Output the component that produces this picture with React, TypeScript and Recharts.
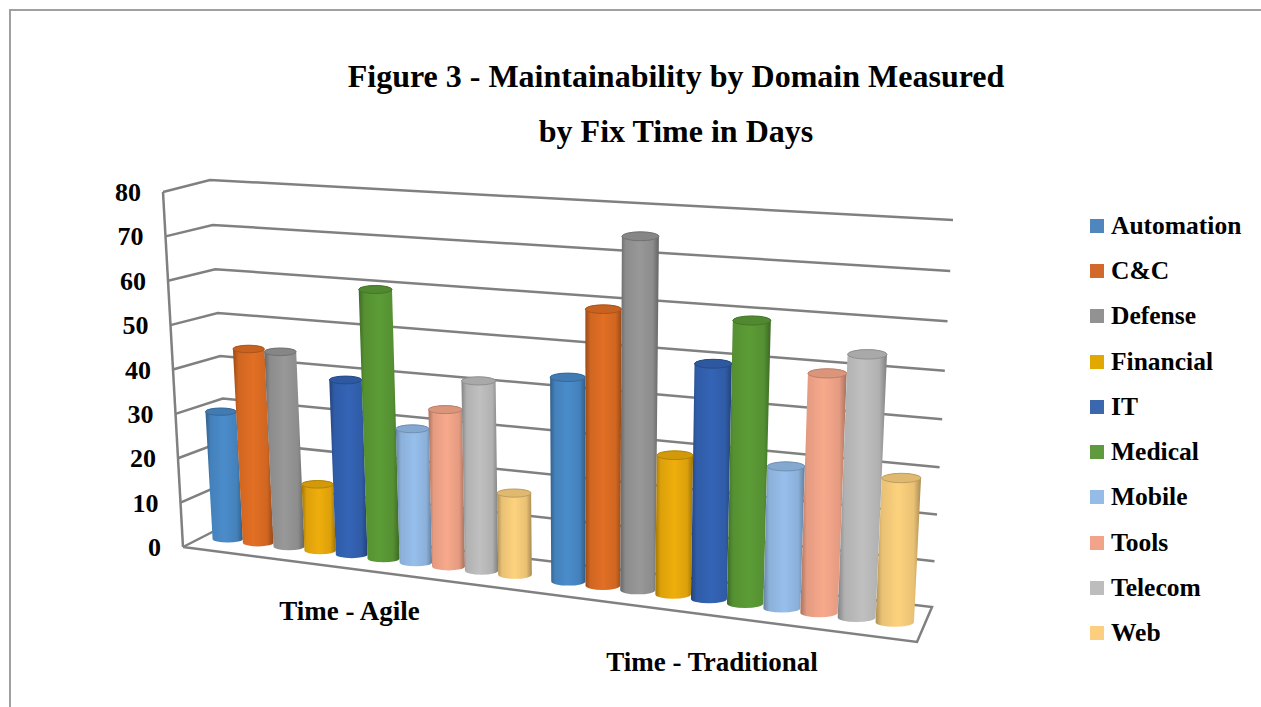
import { BarChart, Bar, XAxis, YAxis, CartesianGrid, Legend } from 'recharts';

const CATEGORIES = ['Time - Agile', 'Time - Traditional'];
const AXIS_TICKS = [0, 10, 20, 30, 40, 50, 60, 70, 80];

const AUTOMATION = [30, 45];
const CC = [45, 60];
const DEFENSE = [45, 75.5];
const FINANCIAL = [15.5, 30.5];
const IT = [40, 50.5];
const MEDICAL = [60.5, 60];
const MOBILE = [30.5, 30.5];
const TOOLS = [35.5, 50.5];
const TELECOM = [42.5, 55];
const WEB = [18.5, 30.5];

const SERIES = [
  { name: 'Automation', values: AUTOMATION, color: '#4F86BE', body: '#4A8CCB' },
  { name: 'C&C', values: CC, color: '#D2692B', body: '#E26F24' },
  { name: 'Defense', values: DEFENSE, color: '#929292', body: '#989898' },
  { name: 'Financial', values: FINANCIAL, color: '#E0A800', body: '#EFAE0C' },
  { name: 'IT', values: IT, color: '#3A67AE', body: '#3464B6' },
  { name: 'Medical', values: MEDICAL, color: '#5F9A3E', body: '#5C9C36' },
  { name: 'Mobile', values: MOBILE, color: '#94BCE6', body: '#97BFEC' },
  { name: 'Tools', values: TOOLS, color: '#F2A48A', body: '#F8A98C' },
  { name: 'Telecom', values: TELECOM, color: '#BDBDBD', body: '#C0C0C0' },
  { name: 'Web', values: WEB, color: '#FCCF80', body: '#FDD27E' },
];

const chartData = CATEGORIES.map((name, i) => {
  const row: Record<string, string | number> = { name };
  SERIES.forEach((s) => {
    row[s.name] = s.values[i];
  });
  return row;
});

// plot rectangle the library lays out in, before it is bent into the 3D view
const PLOT = { left: 200, top: 180, width: 740, height: 360 };
const LEGEND_WIDTH = 171;
const PLOT_BOTTOM = PLOT.top + PLOT.height;

type Pt = [number, number];

// unit square -> quad (top-left, top-right, bottom-right, bottom-left)
function makeProjection(q: Pt[]) {
  const [p0, p1, p2, p3] = q;
  const dx1 = p1[0] - p2[0];
  const dx2 = p3[0] - p2[0];
  const sx = p0[0] - p1[0] + p2[0] - p3[0];
  const dy1 = p1[1] - p2[1];
  const dy2 = p3[1] - p2[1];
  const sy = p0[1] - p1[1] + p2[1] - p3[1];
  const den = dx1 * dy2 - dx2 * dy1;
  const g = (sx * dy2 - dx2 * sy) / den;
  const h = (dx1 * sy - sx * dy1) / den;
  const a = p1[0] - p0[0] + g * p1[0];
  const b = p3[0] - p0[0] + h * p3[0];
  const d = p1[1] - p0[1] + g * p1[1];
  const e = p3[1] - p0[1] + h * p3[1];
  return (x: number, y: number): Pt => {
    const u = (x - PLOT.left) / PLOT.width;
    const v = (y - PLOT.top) / PLOT.height;
    const w = g * u + h * v + 1;
    return [(a * u + b * v + p0[0]) / w, (d * u + e * v + p0[1]) / w];
  };
}

const toWall = makeProjection([[210, 180], [953, 220], [932, 607], [230, 523]]);
const toBars = makeProjection([[184, 187], [945, 232], [925, 626], [204, 536]]);

// front edge of the left wall, value 80 at the top
const FRONT_TOP: Pt = [163, 192];
const FRONT_BOTTOM: Pt = [183, 547];
const FLOOR_FRONT_RIGHT: Pt = [917, 642];

// label nudges off the floor, one per category
const LABEL_DX = [-18, -15];
const LABEL_DY = [64, 70];

function toFrontEdge(y: number): Pt {
  const t = (y - PLOT.top) / PLOT.height;
  return [
    FRONT_TOP[0] + (FRONT_BOTTOM[0] - FRONT_TOP[0]) * t,
    FRONT_TOP[1] + (FRONT_BOTTOM[1] - FRONT_TOP[1]) * t,
  ];
}

function shade(hex: string, k: number) {
  const n = parseInt(hex.slice(1), 16);
  const c = [n >> 16, (n >> 8) & 255, n & 255].map((v) =>
    Math.round(k < 1 ? v * k : v + (255 - v) * (k - 1))
  );
  return `rgb(${c[0]},${c[1]},${c[2]})`;
}

const GRID_COLOR = '#808080';
const GRID_WIDTH = 2.5;

function GridLine(props: any) {
  const { y1, x1, x2 } = props;
  const front = toFrontEdge(y1);
  const left = toWall(x1, y1);
  const right = toWall(x2, y1);
  const isFloor = Math.abs(y1 - PLOT_BOTTOM) < 1;
  const isTop = Math.abs(y1 - PLOT.top) < 1;
  const pts = [front, left, right];
  if (isFloor) pts.push(FLOOR_FRONT_RIGHT, FRONT_BOTTOM);
  return (
    <g>
      <polyline
        points={pts.map((p) => p.join(',')).join(' ')}
        fill="none"
        stroke={GRID_COLOR}
        strokeWidth={GRID_WIDTH}
      />
      {isTop && (
        <line
          x1={FRONT_TOP[0]}
          y1={FRONT_TOP[1]}
          x2={FRONT_BOTTOM[0]}
          y2={FRONT_BOTTOM[1]}
          stroke={GRID_COLOR}
          strokeWidth={GRID_WIDTH}
        />
      )}
    </g>
  );
}

function Cylinder(props: any) {
  const { x, y, width, height, gradientId, body } = props;
  const tl = toBars(x, y);
  const tr = toBars(x + width, y);
  const br = toBars(x + width, y + height);
  const bl = toBars(x, y + height);
  // caps stay level on screen, only the sides follow the perspective
  const cx = (tl[0] + tr[0]) / 2;
  const cy = (tl[1] + tr[1]) / 2;
  const bx = (bl[0] + br[0]) / 2;
  const by = (bl[1] + br[1]) / 2;
  const rx = (tr[0] - tl[0]) / 2;
  const rb = (br[0] - bl[0]) / 2;
  const ry = rx * 0.24;
  const d = [
    `M${cx - rx},${cy}`,
    `L${bx - rb},${by}`,
    `A${rb},${rb * 0.24} 0 0 0 ${bx + rb},${by}`,
    `L${cx + rx},${cy}`,
    `A${rx},${ry} 0 0 0 ${cx - rx},${cy}`,
    'Z',
  ].join(' ');
  return (
    <g>
      <path d={d} fill={`url(#${gradientId})`} />
      <ellipse
        cx={cx}
        cy={cy}
        rx={rx}
        ry={ry}
        fill={shade(body, 0.88)}
        stroke={shade(body, 0.75)}
        strokeWidth={1}
      />
    </g>
  );
}

function ValueTick({ y, payload }: any) {
  const p = toFrontEdge(y);
  return (
    <text x={p[0] - 22} y={p[1] + 9} textAnchor="end" fontSize={26} fontWeight="bold" fill="#000">
      {payload.value}
    </text>
  );
}

function CategoryTick({ x, index, payload }: any) {
  const p = toBars(x, PLOT_BOTTOM);
  return (
    <text
      x={p[0] + LABEL_DX[index]}
      y={p[1] + LABEL_DY[index]}
      textAnchor="middle"
      fontSize={27}
      fontWeight="bold"
      fill="#000"
    >
      {payload.value}
    </text>
  );
}

function LegendList({ payload }: any) {
  return (
    <div>
      {(payload || []).map((item: any) => (
        <div key={item.value} style={{ display: 'flex', alignItems: 'center', height: 45.3 }}>
          <span style={{ width: 14, height: 14, background: item.color, marginRight: 7 }} />
          <span style={{ fontSize: 25.5, fontWeight: 'bold', color: '#000' }}>{item.value}</span>
        </div>
      ))}
    </div>
  );
}

const TITLE_STYLE = {
  position: 'absolute' as const,
  left: 0,
  width: 1352,
  textAlign: 'center' as const,
  fontSize: 32,
  fontWeight: 'bold' as const,
  color: '#000',
};

export default function App() {
  return (
    <div
      style={{
        position: 'absolute',
        left: 0,
        top: 0,
        width: 1261,
        height: 707,
        background: '#fff',
        overflow: 'hidden',
        fontFamily: '"Liberation Serif", serif',
      }}
    >
      <div
        style={{
          position: 'absolute',
          left: 9,
          top: 9,
          right: 0,
          bottom: 0,
          borderTop: '2px solid #A0A0A0',
          borderLeft: '2px solid #A0A0A0',
        }}
      />
      <div style={{ ...TITLE_STYLE, top: 58 }}>Figure 3 - Maintainability by Domain Measured</div>
      <div style={{ ...TITLE_STYLE, top: 113 }}>by Fix Time in Days</div>
      <div style={{ position: 'absolute', left: 0, top: 0 }}>
        <BarChart
          width={1261}
          height={707}
          data={chartData}
          barGap={0}
          barCategoryGap="2.7%"
          margin={{
            left: PLOT.left - 1,
            top: PLOT.top,
            right: 1261 - PLOT.left - PLOT.width - LEGEND_WIDTH,
            bottom: 707 - PLOT_BOTTOM - 1,
          }}
          style={{ fontFamily: '"Liberation Serif", serif' }}
        >
          <defs>
            {SERIES.map((s, i) => (
              <linearGradient key={s.name} id={`cyl-${i}`} x1="0" y1="0" x2="1" y2="0">
                <stop offset="0" stopColor={shade(s.body, 0.68)} />
                <stop offset="0.14" stopColor={shade(s.body, 0.92)} />
                <stop offset="0.5" stopColor={s.body} />
                <stop offset="0.84" stopColor={shade(s.body, 0.92)} />
                <stop offset="1" stopColor={shade(s.body, 0.66)} />
              </linearGradient>
            ))}
          </defs>
          <CartesianGrid vertical={false} horizontal={(p: any) => <GridLine key={p.key} {...p} />} />
          <XAxis
            dataKey="name"
            height={1}
            axisLine={false}
            tickLine={false}
            interval={0}
            tick={<CategoryTick />}
          />
          <YAxis
            width={1}
            domain={[0, 80]}
            ticks={AXIS_TICKS}
            axisLine={false}
            tickLine={false}
            interval={0}
            tick={<ValueTick />}
          />
          <Legend
            layout="vertical"
            align="right"
            verticalAlign="top"
            width={LEGEND_WIDTH}
            itemSorter={null}
            content={<LegendList />}
            wrapperStyle={{ left: 1090, top: 203, right: 'auto', width: LEGEND_WIDTH }}
          />
          {SERIES.map((s, i) => (
            <Bar
              key={s.name}
              dataKey={s.name}
              fill={s.color}
              isAnimationActive={false}
              shape={(p: any) => <Cylinder {...p} gradientId={`cyl-${i}`} body={s.body} />}
            />
          ))}
        </BarChart>
      </div>
    </div>
  );
}
